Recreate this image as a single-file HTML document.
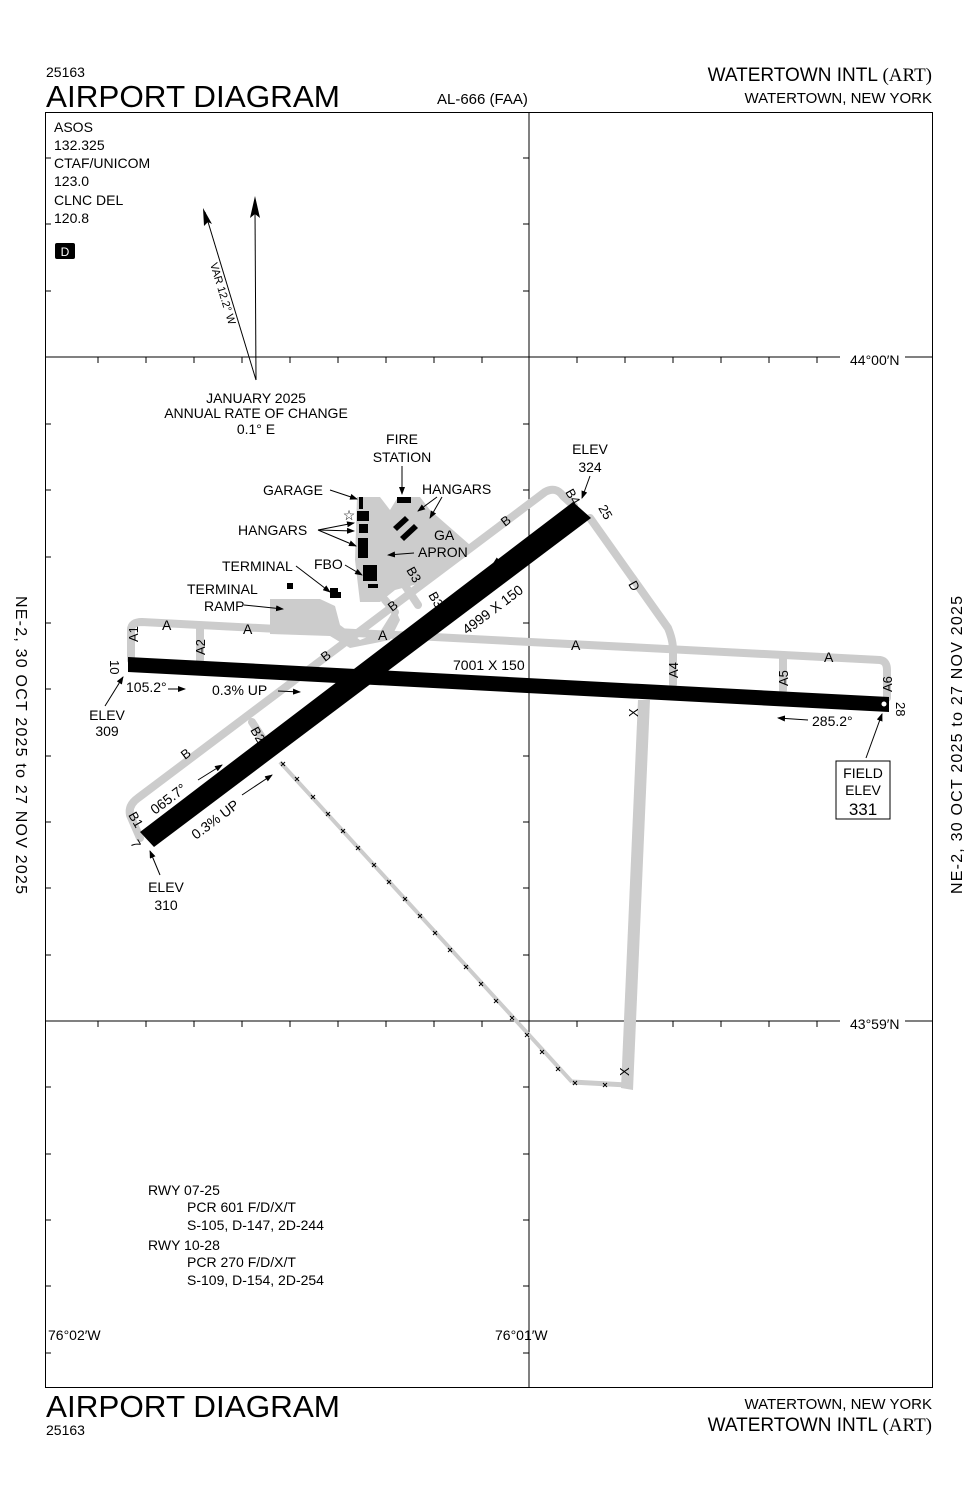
<!DOCTYPE html>
<html><head><style>
body{margin:0;background:#fff}
svg{display:block}
text{font-family:"Liberation Sans",sans-serif;fill:#000}
</style></head><body>
<svg width="978" height="1500" viewBox="0 0 978 1500" xmlns="http://www.w3.org/2000/svg">
<defs><marker id="ah" markerWidth="8" markerHeight="6" refX="7" refY="3" orient="auto" markerUnits="userSpaceOnUse"><path d="M0 0 L8 3 L0 6 Z" fill="#000"/></marker></defs>
<rect width="978" height="1500" fill="#fff"/>
<!-- header -->
<text x="46" y="77" font-size="14">25163</text>
<text x="46" y="107" font-size="31" textLength="294" lengthAdjust="spacingAndGlyphs">AIRPORT DIAGRAM</text>
<text x="437" y="104" font-size="15">AL-666 (FAA)</text>
<text x="932" y="81" font-size="19" text-anchor="end">WATERTOWN INTL <tspan font-family="Liberation Serif">(ART)</tspan></text>
<text x="932" y="103" font-size="15" text-anchor="end">WATERTOWN, NEW YORK</text>
<!-- footer -->
<text x="46" y="1417" font-size="31" textLength="294" lengthAdjust="spacingAndGlyphs">AIRPORT DIAGRAM</text>
<text x="46" y="1435" font-size="14">25163</text>
<text x="932" y="1409" font-size="15" text-anchor="end">WATERTOWN, NEW YORK</text>
<text x="932" y="1431" font-size="19" text-anchor="end">WATERTOWN INTL <tspan font-family="Liberation Serif">(ART)</tspan></text>
<!-- side text -->
<text transform="translate(16,745) rotate(90)" font-size="16" text-anchor="middle" textLength="298" lengthAdjust="spacing">NE-2,  30 OCT 2025  to  27 NOV 2025</text>
<text transform="translate(962,745) rotate(-90)" font-size="16" text-anchor="middle" textLength="298" lengthAdjust="spacing">NE-2,  30 OCT 2025  to  27 NOV 2025</text>
<!-- frame -->
<rect x="45.5" y="112.5" width="887" height="1275" fill="none" stroke="#000" stroke-width="1"/>
<line x1="529" y1="112" x2="529" y2="1387" stroke="#000"/>
<line x1="45" y1="357" x2="840" y2="357" stroke="#000"/>
<line x1="905" y1="357" x2="932" y2="357" stroke="#000"/>
<line x1="45" y1="1021" x2="840" y2="1021" stroke="#000"/>
<line x1="905" y1="1021" x2="932" y2="1021" stroke="#000"/>
<g stroke="#000" stroke-width="1">
<path d="M98 357v6M146 357v6M194 357v6M242 357v6M290 357v6M338 357v6M386 357v6M434 357v6M482 357v6M577 357v6M625 357v6M673 357v6M721 357v6M769 357v6M817 357v6"/>
<path d="M98 1021v6M146 1021v6M194 1021v6M242 1021v6M290 1021v6M338 1021v6M386 1021v6M434 1021v6M482 1021v6M577 1021v6M625 1021v6M673 1021v6M721 1021v6M769 1021v6M817 1021v6"/>
<path d="M45 158h6M45 224h6M45 291h6M45 424h6M45 490h6M45 557h6M45 623h6M45 689h6M45 756h6M45 822h6M45 888h6M45 955h6M45 1087h6M45 1154h6M45 1220h6M45 1286h6M45 1353h6"/>
<path d="M529 158h-6M529 224h-6M529 291h-6M529 424h-6M529 490h-6M529 557h-6M529 623h-6M529 689h-6M529 756h-6M529 822h-6M529 888h-6M529 955h-6M529 1087h-6M529 1154h-6M529 1220h-6M529 1286h-6M529 1353h-6"/>
</g>
<text x="850" y="365" font-size="14">44°00′N</text>
<text x="850" y="1029" font-size="14">43°59′N</text>
<text x="48" y="1340" font-size="14">76°02′W</text>
<text x="495" y="1340" font-size="14">76°01′W</text>
<!-- freq -->
<g font-size="14">
<text x="54" y="132">ASOS</text><text x="54" y="150">132.325</text>
<text x="54" y="168">CTAF/UNICOM</text><text x="54" y="186">123.0</text>
<text x="54" y="205">CLNC DEL</text><text x="54" y="223">120.8</text>
</g>
<rect x="55" y="243" width="20" height="16" rx="2" fill="#000"/>
<text x="65" y="256" font-size="12" text-anchor="middle" style="fill:#fff">D</text>
<!-- north arrows -->
<line x1="255" y1="210" x2="256" y2="380" stroke="#000"/>
<path d="M255 196 L250 218 L255 214 L260 218 Z" fill="#000"/>
<line x1="205" y1="212" x2="256" y2="380" stroke="#000"/>
<path d="M203 208 L204 226 L208 222 L212 224 Z" fill="#000"/>
<text transform="translate(210,264) rotate(73)" font-size="11">VAR 12.2° W</text>
<text x="256" y="403" font-size="14" text-anchor="middle">JANUARY 2025</text>
<text x="256" y="418" font-size="14" text-anchor="middle">ANNUAL RATE OF CHANGE</text>
<text x="256" y="434" font-size="14" text-anchor="middle">0.1° E</text>
<!-- taxiways -->
<g fill="none" stroke="#ccc" stroke-width="8" stroke-linejoin="round" stroke-linecap="round">
<path d="M131 660 L131 630 Q131 622 142 622 L880 660 Q887 661 887 670 L887 698"/>
<path d="M200 628 L200 660"/>
<path d="M673 650 L673 684"/>
<path d="M783 655 L783 690"/>
<path d="M140 838 L130 815 Q128 805 138 798 L545 492 Q556 486 563 496 L574 506"/>
<path d="M252 722 L265 742"/>
<path d="M385 600 L395 612 M400 578 L418 605"/>
<path d="M590 518 L668 628 Q673 640 673 650"/>
</g>
<path d="M638 700 L650 700 L633 1090 L621 1088 Z" fill="#ccc"/>
<path d="M627 1085 L572 1082" stroke="#ccc" stroke-width="5" fill="none"/>
<path d="M280 762 L572 1082" stroke="#ccc" stroke-width="4" fill="none"/>
<g stroke="#000" stroke-width="1">
<path d="M281 762l4 4m0-4l-4 4M295 777l4 4m0-4l-4 4M311 795l4 4m0-4l-4 4M326 812l4 4m0-4l-4 4M341 829l4 4m0-4l-4 4M356 846l4 4m0-4l-4 4M372 863l4 4m0-4l-4 4M387 880l4 4m0-4l-4 4M403 897l4 4m0-4l-4 4M418 914l4 4m0-4l-4 4M433 931l4 4m0-4l-4 4M448 948l4 4m0-4l-4 4M464 965l4 4m0-4l-4 4M479 982l4 4m0-4l-4 4M494 999l4 4m0-4l-4 4M510 1016l4 4m0-4l-4 4M525 1033l4 4m0-4l-4 4M540 1050l4 4m0-4l-4 4M556 1067l4 4m0-4l-4 4M573 1081l4 4m0-4l-4 4M603 1083l4 4m0-4l-4 4"/>
</g>
<!-- aprons -->
<path d="M357 497 L380 497 L390 510 L398 497 L420 497 L430 510 L470 545 L425 582 L395 590 L380 602 L360 602 L355 560 Z" fill="#ccc"/>
<path d="M270 599 L320 599 L335 606 L340 625 L360 640 L380 632 L395 608 L400 620 L390 640 L350 648 L330 636 L270 634 Z" fill="#ccc"/>
<!-- buildings -->
<g fill="#000">
<rect x="397" y="497" width="14" height="6"/>
<rect x="359" y="497" width="4" height="12"/>
<rect x="357" y="511" width="12" height="10"/>
<rect x="359" y="524" width="9" height="9"/>
<rect x="358" y="538" width="10" height="20"/>
<rect x="363" y="565" width="14" height="16"/>
<rect x="368" y="584" width="10" height="4"/>
<rect x="287" y="583" width="6" height="6"/>
<path d="M330 588 h8 v4 h3 v6 h-11z"/>
<path d="M393 527 l12 -11 4 4 -12 11z"/>
<path d="M400 537 l14 -13 4 4 -14 13z"/>
</g>
<text x="349" y="520" font-size="14" text-anchor="middle">☆</text>
<!-- runways -->
<path d="M128 657 L889 697 L889 712 L128 672 Z" fill="#000"/>
<circle cx="884" cy="704" r="2.5" fill="#fff"/>
<path d="M573 502 L591 518 L154 847 L140 832 Z" fill="#000"/>
<!-- labels -->
<g font-size="14">
<text x="402" y="444" text-anchor="middle">FIRE</text>
<text x="402" y="462" text-anchor="middle">STATION</text>
<text x="590" y="454" text-anchor="middle">ELEV</text>
<text x="590" y="472" text-anchor="middle">324</text>
<text x="263" y="495">GARAGE</text>
<text x="422" y="494">HANGARS</text>
<text x="238" y="535">HANGARS</text>
<text x="434" y="540">GA</text>
<text x="418" y="557">APRON</text>
<text x="222" y="571">TERMINAL</text>
<text x="314" y="569">FBO</text>
<text x="187" y="594">TERMINAL</text>
<text x="204" y="611">RAMP</text>
<text x="162" y="630">A</text>
<text x="243" y="634">A</text>
<text x="378" y="640">A</text>
<text x="571" y="650">A</text>
<text x="824" y="662">A</text>
<text x="453" y="670">7001 X 150</text>
<text x="126" y="692">105.2°</text>
<text x="212" y="695">0.3% UP</text>
<text x="107" y="720" text-anchor="middle">ELEV</text>
<text x="107" y="736" text-anchor="middle">309</text>
<text x="166" y="892" text-anchor="middle">ELEV</text>
<text x="166" y="910" text-anchor="middle">310</text>
<text x="812" y="726">285.2°</text>
<text x="148" y="1195">RWY 07-25</text>
<text x="187" y="1212">PCR 601 F/D/X/T</text>
<text x="187" y="1230">S-105, D-147, 2D-244</text>
<text x="148" y="1250">RWY 10-28</text>
<text x="187" y="1267">PCR 270 F/D/X/T</text>
<text x="187" y="1285">S-109, D-154, 2D-254</text>
</g>
<rect x="836" y="761" width="54" height="58" fill="#fff" stroke="#000"/>
<text x="863" y="778" font-size="14" text-anchor="middle">FIELD</text>
<text x="863" y="795" font-size="14" text-anchor="middle">ELEV</text>
<text x="863" y="815" font-size="17" text-anchor="middle">331</text>
<g font-size="13">
<text transform="translate(138,642) rotate(-90)">A1</text>
<text transform="translate(205,655) rotate(-90)">A2</text>
<text transform="translate(678,678) rotate(-90)">A4</text>
<text transform="translate(788,686) rotate(-90)">A5</text>
<text transform="translate(892,692) rotate(-90)">A6</text>
<text transform="translate(896,702) rotate(90)">28</text>
<text transform="translate(110,660) rotate(90)">10</text>
<text transform="translate(130,843) rotate(60)">7</text>
<text transform="translate(128,815) rotate(60)">B1</text>
<text transform="translate(250,730) rotate(60)">B2</text>
<text transform="translate(406,570) rotate(60)">B3</text>
<text transform="translate(428,595) rotate(60)">B3</text>
<text transform="translate(565,492) rotate(60)">B4</text>
<text transform="translate(598,508) rotate(60)">25</text>
<text transform="translate(628,584) rotate(60)">D</text>
<text transform="translate(638,717) rotate(-90)">X</text>
<text transform="translate(629,1076) rotate(-90)">X</text>
<text transform="translate(185,760) rotate(-37)">B</text>
<text transform="translate(325,662) rotate(-37)">B</text>
<text transform="translate(392,612) rotate(-37)">B</text>
<text transform="translate(505,527) rotate(-37)">B</text>
<text transform="translate(467,635) rotate(-37)" font-size="14">4999 X 150</text>
<text transform="translate(514,562) rotate(-37)" font-size="14">245.7°</text>
<text transform="translate(155,815) rotate(-37)" font-size="14">065.7°</text>
<text transform="translate(196,840) rotate(-37)" font-size="14">0.3% UP</text>
</g>
<!-- leaders -->
<g stroke="#000" fill="none" stroke-width="1" marker-end="url(#ah)">
<path d="M402 466 V494"/><path d="M590 476 L582 498"/>
<path d="M330 490 L357 499"/><path d="M437 497 L418 511"/><path d="M442 497 L430 518"/>
<path d="M318 530 L354 523"/><path d="M318 530 L354 531"/><path d="M318 530 L356 546"/>
<path d="M414 553 L388 555"/><path d="M345 565 L362 575"/>
<path d="M296 566 L330 592"/><path d="M244 605 L283 609"/>
<path d="M168 689 L185 689"/><path d="M278 691 L300 692"/>
<path d="M105 706 L123 677"/><path d="M160 875 L150 851"/>
<path d="M808 720 L778 718"/><path d="M866 758 L882 714"/>
<path d="M516 547 L493 564"/><path d="M198 780 L222 765"/><path d="M242 795 L272 775"/>
</g>
</svg>
</body></html>
